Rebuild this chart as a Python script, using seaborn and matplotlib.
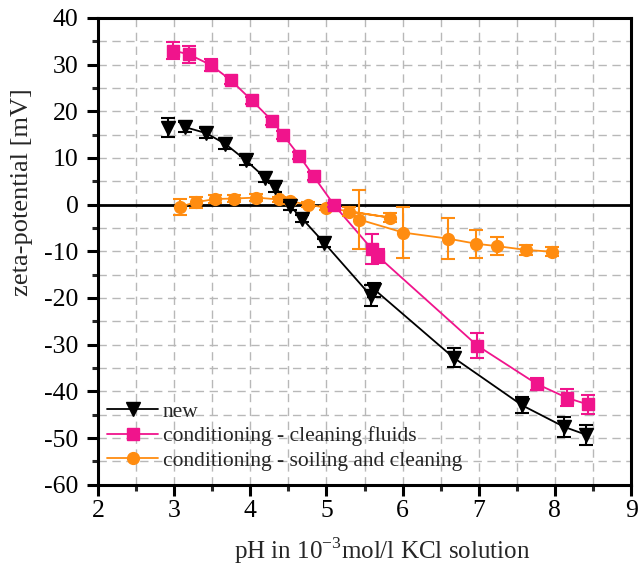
import matplotlib
matplotlib.use("Agg")
import numpy as np
import pandas as pd
import seaborn as sns
import matplotlib.pyplot as plt
from matplotlib.lines import Line2D
from matplotlib.ticker import MultipleLocator

# ---------------- data ----------------
new_x = [2.92, 3.14, 3.42, 3.67, 3.94, 4.19, 4.33, 4.52, 4.68, 4.97, 5.58, 5.63, 6.67, 7.57, 8.12, 8.41]
new_y = [16.5, 16.6, 15.3, 13.0, 9.5, 5.8, 3.7, -0.3, -3.0, -8.2, -19.5, -18.2, -32.8, -43.0, -47.6, -49.3]
new_err = [2.0, 1.0, 1.0, 1.0, 1.0, 1.0, 1.0, 0.8, 0.8, 0.8, 2.2, 1.5, 2.0, 1.7, 2.2, 2.1]

clean_x = [2.98, 3.19, 3.48, 3.74, 4.02, 4.29, 4.43, 4.64, 4.83, 5.10, 5.60, 5.67, 6.98, 7.76, 8.16, 8.43]
clean_y = [33.0, 32.2, 29.9, 26.7, 22.3, 17.9, 14.9, 10.5, 6.1, -0.1, -9.6, -11.0, -30.2, -38.4, -41.4, -42.8]
clean_err = [1.8, 1.8, 1.3, 0.8, 0.8, 0.8, 0.8, 0.8, 0.8, 0.5, 3.2, 1.5, 2.6, 1.3, 1.8, 2.0]

soil_x = [3.07, 3.28, 3.54, 3.79, 4.08, 4.37, 4.52, 4.76, 5.00, 5.84, 5.30, 5.43, 6.01, 6.60, 6.97, 7.24, 7.62, 7.96]
soil_y = [-0.5, 0.5, 1.2, 1.3, 1.5, 1.1, 0.7, 0.0, -0.7, -2.8, -1.5, -3.2, -6.0, -7.3, -8.4, -8.9, -9.7, -10.1]
soil_err = [1.8, 1.2, 0.8, 0.8, 0.8, 0.6, 0.5, 0.5, 0.5, 1.0, 1.0, 6.4, 5.5, 4.4, 3.0, 2.0, 1.0, 1.0]

labels = ["new", "conditioning - cleaning fluids", "conditioning - soiling and cleaning"]
x_ticks = [2, 3, 4, 5, 6, 7, 8, 9]
y_ticks = [40, 30, 20, 10, 0, -10, -20, -30, -40, -50, -60]

BLACK = "#000000"
PINK = "#f0148c"
ORANGE = "#ff8c10"

# ---------------- style ----------------
sns.set_style("white")
plt.rcParams["font.family"] = ["Liberation Serif", "DejaVu Serif"]
plt.rcParams["mathtext.fontset"] = "custom"
plt.rcParams["mathtext.rm"] = "Liberation Serif"

fig = plt.figure(figsize=(6.41, 5.75), dpi=100)
ax = fig.add_axes([0.153, 0.157, 0.8315, 0.812])

df_new = pd.DataFrame({"x": new_x, "y": new_y, "e": new_err})
df_clean = pd.DataFrame({"x": clean_x, "y": clean_y, "e": clean_err})
df_soil = pd.DataFrame({"x": soil_x, "y": soil_y, "e": soil_err})

# grid (major + minor, dashed)
ax.set_xlim(2, 9)
ax.set_ylim(-60, 40)
ax.xaxis.set_major_locator(MultipleLocator(1))
ax.xaxis.set_minor_locator(MultipleLocator(0.5))
ax.yaxis.set_major_locator(MultipleLocator(10))
ax.yaxis.set_minor_locator(MultipleLocator(5))
ax.grid(True, which="both", color="#b8b8b8", linestyle=(0, (6, 4)), linewidth=1.0, zorder=0)
ax.set_axisbelow(True)

ax.axhline(0, color="black", lw=2.0, zorder=1)

# lines (data order)
sns.lineplot(data=df_new.iloc[1:], x="x", y="y", sort=False, estimator=None,
             color=BLACK, lw=1.3, ax=ax, legend=False, zorder=2)
sns.lineplot(data=df_clean, x="x", y="y", sort=False, estimator=None,
             color=PINK, lw=1.3, ax=ax, legend=False, zorder=2)
sns.lineplot(data=df_soil, x="x", y="y", sort=False, estimator=None,
             color=ORANGE, lw=1.3, ax=ax, legend=False, zorder=2)

# markers + error bars
ax.errorbar(df_soil["x"], df_soil["y"], yerr=df_soil["e"], fmt="o", color=ORANGE,
            ms=8.5, elinewidth=1.5, capsize=5, capthick=1.5, zorder=3)
ax.errorbar(df_clean["x"], df_clean["y"], yerr=df_clean["e"], fmt="s", color=PINK,
            ms=8, elinewidth=1.5, capsize=5, capthick=1.5, zorder=4)
ax.errorbar(df_new["x"], df_new["y"], yerr=df_new["e"], fmt="v", color=BLACK,
            ms=10, elinewidth=1.5, capsize=5, capthick=1.5, zorder=5)

# axes styling
for s in ax.spines.values():
    s.set_linewidth(2.2)
    s.set_color("black")
ax.tick_params(axis="both", which="major", direction="out", length=8, width=2.2,
               labelsize=18.5, colors="black", bottom=True, left=True, top=False, right=False,
               pad=3)
ax.tick_params(axis="y", which="major", pad=6)
ax.tick_params(axis="both", which="minor", direction="out", length=4.5, width=2.2,
               bottom=True, left=True, top=False, right=False)
ax.set_xticks(x_ticks)
ax.set_xticklabels([str(t) for t in x_ticks])
ax.set_yticks(y_ticks)
ax.set_yticklabels([str(t) for t in y_ticks])
ax.set_xlabel(r"pH in 10$^{\mathrm{-3}}$mol/l KCl solution", fontsize=18)
ax.set_ylabel("zeta-potential [mV]", fontsize=19)
ax.xaxis.set_label_coords(0.533, -0.108)
ax.yaxis.set_label_coords(-0.122, 0.627)

handles = [
    Line2D([], [], color=BLACK, marker="v", ms=10, lw=1.3),
    Line2D([], [], color=PINK, marker="s", ms=8, lw=1.3),
    Line2D([], [], color=ORANGE, marker="o", ms=8.5, lw=1.3),
]
leg = ax.legend(handles, labels, loc="lower left", frameon=False, fontsize=15.5,
                handlelength=2.4, handletextpad=0.2, labelspacing=0.2,
                borderaxespad=0.0, bbox_to_anchor=(0.0, 0.012))

fig.savefig("out.png", dpi=100)
